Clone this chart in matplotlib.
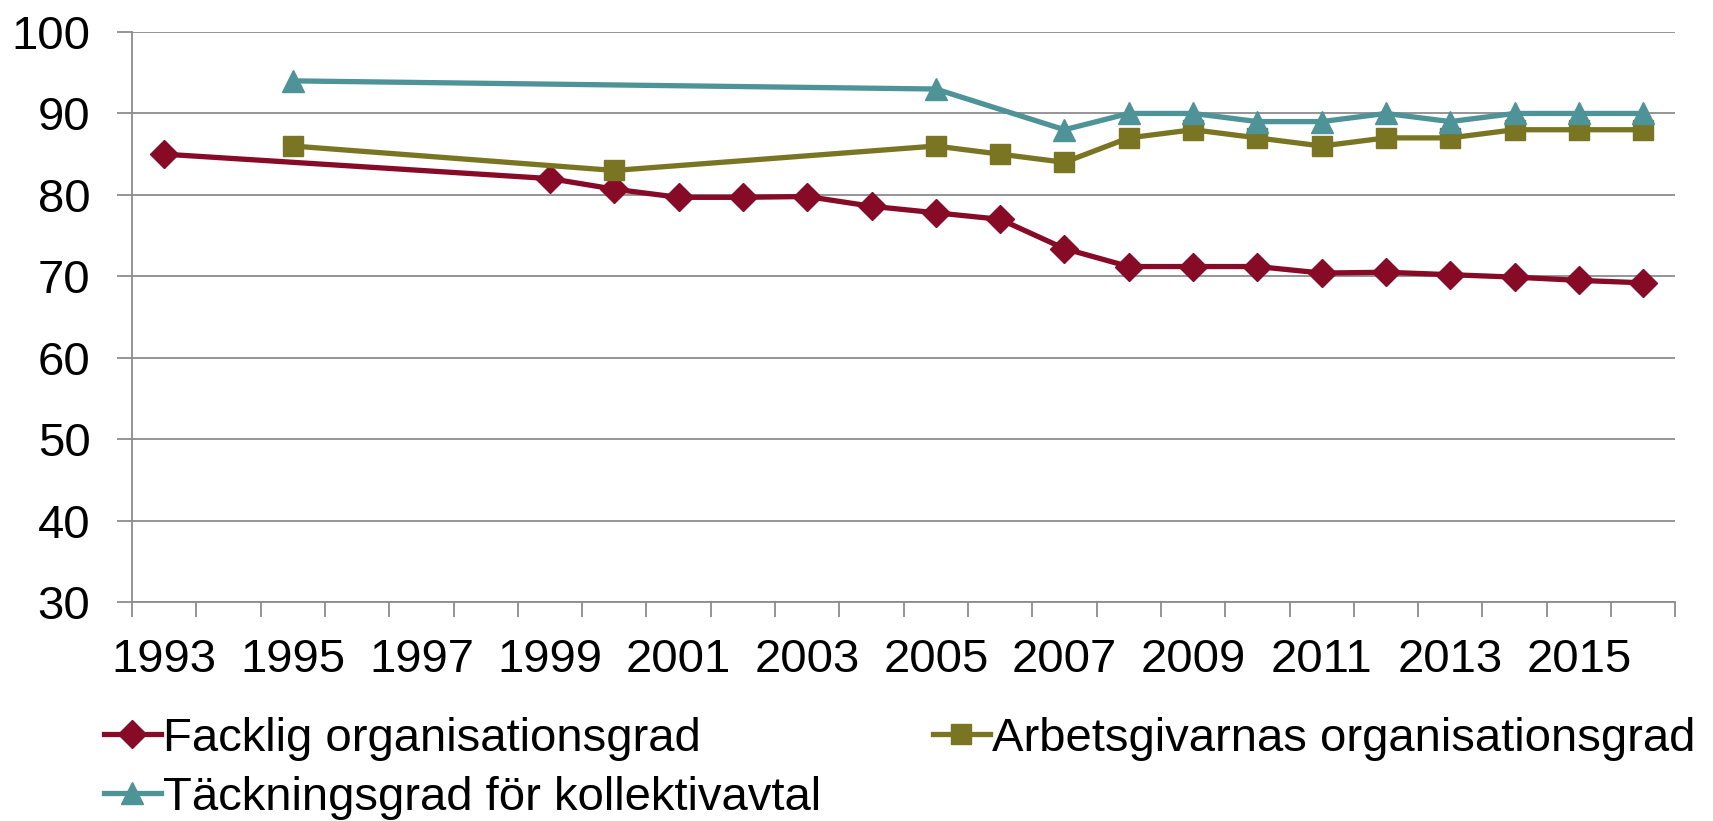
import numpy as np
import matplotlib
matplotlib.use("Agg")
import matplotlib.pyplot as plt
from matplotlib.ticker import FixedLocator

plt.rcParams['font.family'] = ['Liberation Sans', 'DejaVu Sans']

# data
fack_years = [1993, 1999, 2000, 2001, 2002, 2003, 2004, 2005, 2006, 2007,
              2008, 2009, 2010, 2011, 2012, 2013, 2014, 2015, 2016]
fack_vals = [85.0, 82.0, 80.7, 79.7, 79.7, 79.8, 78.6, 77.8, 77.0, 73.4,
             71.2, 71.2, 71.2, 70.4, 70.5, 70.2, 69.9, 69.5, 69.2]

arb_years = [1995, 2000, 2005, 2006, 2007, 2008, 2009, 2010, 2011, 2012,
             2013, 2014, 2015, 2016]
arb_vals = [86, 83, 86, 85, 84, 87, 88, 87, 86, 87, 87, 88, 88, 88]

tack_years = [1995, 2005, 2007, 2008, 2009, 2010, 2011, 2012, 2013, 2014,
              2015, 2016]
tack_vals = [94, 93, 88, 90, 90, 89, 89, 90, 89, 90, 90, 90]

labels = ['Facklig organisationsgrad', 'Arbetsgivarnas organisationsgrad',
          'Täckningsgrad för kollektivavtal']
colors = ['#870A27', '#7A7522', '#4E9397']

tick_years = list(range(1993, 2016, 2))
grid_col = '#8C8C8C'
fs = 34

fig = plt.figure(figsize=(17.13, 8.21), dpi=100)
ax = fig.add_axes([0.0771, 0.2667, 0.9009, 0.6943])

l1, = ax.plot(fack_years, fack_vals, color=colors[0], lw=3.8, marker='D',
              markersize=14, label=labels[0], zorder=3)
l2, = ax.plot(arb_years, arb_vals, color=colors[1], lw=3.8, marker='s',
              markersize=15, label=labels[1], zorder=3)
l3, = ax.plot(tack_years, tack_vals, color=colors[2], lw=3.8, marker='^',
              markersize=16, label=labels[2], zorder=3)

ax.set_xlim(1992.5, 2016.5)
ax.set_ylim(30, 100)
ax.set_yticks(range(30, 101, 10))
ax.set_xticks(tick_years)
ax.set_xticklabels([str(y) for y in tick_years])
ax.xaxis.set_minor_locator(FixedLocator(np.arange(1992.5, 2017, 1.0)))

ax.tick_params(axis='x', which='major', length=0, labelsize=fs, pad=26)
ax.tick_params(axis='x', which='minor', length=11, width=1.3, color=grid_col,
               direction='out')
ax.tick_params(axis='y', length=11, width=1.3, color=grid_col, labelsize=fs,
               pad=19, direction='out')

ax.grid(axis='y', color=grid_col, lw=1.3, zorder=0)
ax.set_axisbelow(True)
for s in ['top', 'right']:
    ax.spines[s].set_visible(False)
for s in ['left', 'bottom']:
    ax.spines[s].set_color(grid_col)
    ax.spines[s].set_linewidth(1.3)

fig.legend([l1, l3, l2], [labels[0], labels[2], labels[1]], ncol=2,
           loc='upper left', bbox_to_anchor=(0.0607, 0.127),
           frameon=False, fontsize=fs, handlelength=1.2, handletextpad=0.05,
           columnspacing=2.37, labelspacing=0.32, borderaxespad=0,
           borderpad=0)

fig.savefig('out.png', dpi=100)
